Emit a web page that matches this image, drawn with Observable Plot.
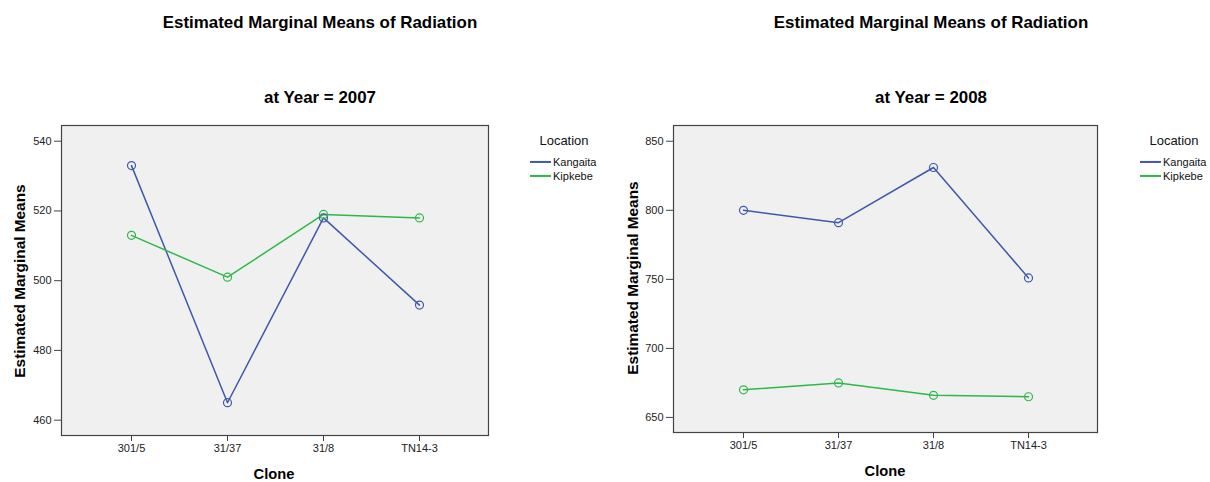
<!DOCTYPE html>
<html>
<head>
<meta charset="utf-8">
<script src="https://cdn.jsdelivr.net/npm/d3@7"></script>
<script src="https://cdn.jsdelivr.net/npm/@observablehq/plot@0.6"></script>
<style>
  html, body { margin: 0; padding: 0; background: #fff; }
  #root { position: relative; width: 1210px; height: 482px; font-family: "Liberation Sans", Arial, sans-serif; color: #000; overflow: hidden; }
  .abs { position: absolute; white-space: nowrap; line-height: 1.1; }
  .title { font-weight: bold; font-size: 16.9px; transform: translate(-50%, -50%); }
  .ylab { font-weight: bold; font-size: 15.4px; transform: translate(-50%, -50%) rotate(-90deg); }
  .xlab { font-weight: bold; font-size: 14.7px; transform: translate(-50%, -50%); }
  .legtitle { font-size: 13px; transform: translate(-50%, -50%); color: #111; }
  .legitem { font-size: 11px; transform: translateY(-50%); color: #111; display: flex; align-items: center; }
  .legitem span.sw { display: inline-block; width: 21px; height: 2px; margin-right: 2px; }
  svg { position: absolute; top: 0; }
</style>
</head>
<body>
<div id="root"></div>
<script>
// ---- data ----
const clones = ["301/5", "31/37", "31/8", "TN14-3"];
const locations = ["Kangaita", "Kipkebe"];
const colors = ["#3e58ac", "#2eb848"];
const kangaita2007 = [533, 465, 518, 493];
const kipkebe2007 = [513, 501, 519, 518];
const kangaita2008 = [800, 791, 831, 751];
const kipkebe2008 = [670, 675, 666, 665];
const yTicks2007 = [460, 480, 500, 520, 540];
const yTicks2008 = [650, 700, 750, 800, 850];

function rows(a, b) {
  const out = [];
  clones.forEach((c, i) => out.push({clone: c, loc: locations[0], v: a[i]}));
  clones.forEach((c, i) => out.push({clone: c, loc: locations[1], v: b[i]}));
  return out;
}

const root = document.getElementById("root");

function addDiv(cls, text, x, y) {
  const d = document.createElement("div");
  d.className = "abs " + cls;
  d.textContent = text;
  d.style.left = x + "px";
  d.style.top = y + "px";
  root.appendChild(d);
  return d;
}

function panel(opts) {
  const data = rows(opts.a, opts.b);
  const svg = Plot.plot({
    width: opts.width,
    height: 482,
    marginLeft: opts.ml,
    marginRight: opts.mr,
    marginTop: 125,
    marginBottom: opts.mb,
    style: {fontFamily: "Liberation Sans, Arial, sans-serif", fontSize: "11px", color: "#222", background: "transparent"},
    x: {type: "point", domain: clones, padding: 0.72, label: null},
    y: {domain: opts.ydomain, label: null},
    color: {domain: locations, range: colors},
    marks: [
      Plot.frame({fill: "#f0f0f0", stroke: "none"}),
      Plot.axisY({ticks: opts.yticks, tickSize: 7, tickPadding: 3, label: null, stroke: "#444"}),
      Plot.axisX({tickSize: 6, tickPadding: 3, label: null, stroke: "#444"}),
      Plot.line(data, {x: "clone", y: "v", z: "loc", stroke: "loc", strokeWidth: 1.5}),
      Plot.dot(data, {x: "clone", y: "v", stroke: "loc", r: 4, strokeWidth: 1.2, fill: "none"}),
      Plot.frame({stroke: "#444", strokeWidth: 1.2})
    ]
  });
  svg.style.left = opts.left + "px";
  root.appendChild(svg);

  addDiv("title", "Estimated Marginal Means of Radiation", opts.titleX, 23);
  addDiv("title", "at Year = " + opts.year, opts.titleX, 98);
  addDiv("ylab", "Estimated Marginal Means", opts.ylabX, opts.ylabY);
  addDiv("xlab", "Clone", opts.xlabX, opts.xlabY);
  addDiv("legtitle", "Location", opts.legX + 34, 141);
  locations.forEach((l, i) => {
    const d = document.createElement("div");
    d.className = "abs legitem";
    d.style.left = opts.legX + "px";
    d.style.top = (161.5 + i * 14) + "px";
    const sw = document.createElement("span");
    sw.className = "sw";
    sw.style.background = colors[i];
    d.appendChild(sw);
    d.appendChild(document.createTextNode(l));
    root.appendChild(d);
  });
}

panel({a: kangaita2007, b: kipkebe2007, year: 2007, left: 0, width: 600, ml: 61, mr: 112, mb: 47,
  ydomain: [455.6, 544.5], yticks: yTicks2007, titleX: 320, ylabX: 20, ylabY: 281, xlabX: 274, xlabY: 474, legX: 530});
panel({a: kangaita2008, b: kipkebe2008, year: 2008, left: 600, width: 610, ml: 73, mr: 113, mb: 50,
  ydomain: [639.1, 861.4], yticks: yTicks2008, titleX: 931, ylabX: 633, ylabY: 278, xlabX: 885, xlabY: 471, legX: 1140});
</script>
</body>
</html>
